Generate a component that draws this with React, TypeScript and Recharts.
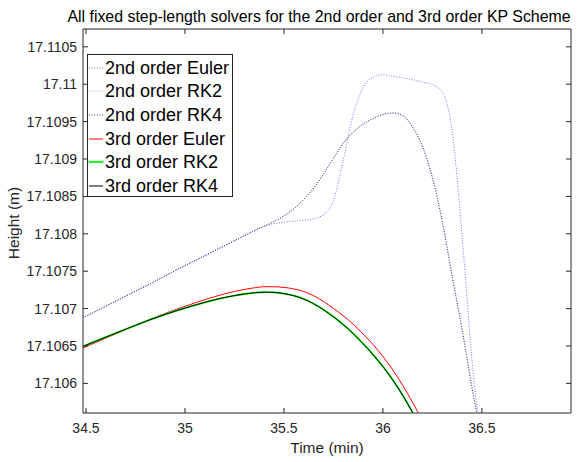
import React from 'react';
import { LineChart, Line, XAxis, YAxis, Legend, ReferenceArea } from 'recharts';

// time in minutes, one sample every 0.05 min
const TIME = [
  34.45, 34.5, 34.55, 34.6, 34.65, 34.7, 34.75, 34.8, 34.85, 34.9, 34.95,
  35.0, 35.05, 35.1, 35.15, 35.2, 35.25, 35.3, 35.35, 35.4, 35.45,
  35.5, 35.55, 35.6, 35.65, 35.7, 35.75, 35.8, 35.85, 35.9, 35.95,
  36.0, 36.05, 36.1, 36.15, 36.2, 36.25, 36.3, 36.35, 36.4, 36.45,
  36.5, 36.55,
];

const EULER_2ND = [
  17.106825, 17.106898, 17.106965, 17.107032, 17.107099, 17.107166, 17.107233, 17.107299, 17.107366, 17.107436, 17.107507,
  17.107574, 17.10764, 17.107707, 17.107774, 17.107841, 17.107908, 17.107975, 17.10804, 17.1081, 17.108135,
  17.108155, 17.108168, 17.108182, 17.108202, 17.108255, 17.108443, 17.108991, 17.109592, 17.109953, 17.110091,
  17.110127, 17.110107, 17.110087, 17.11006, 17.110028, 17.109993, 17.1099, 17.109365, 17.107975, 17.106303,
  17.105127, 17.10391,
];

const RK2_2ND = [
  17.106825, 17.106898, 17.106965, 17.107032, 17.107099, 17.107166, 17.107233, 17.107299, 17.107366, 17.107436, 17.107507,
  17.107574, 17.10764, 17.107707, 17.107774, 17.107841, 17.107908, 17.107975, 17.10804, 17.1081, 17.108165,
  17.10824, 17.108335, 17.10846, 17.10861, 17.1088, 17.10901, 17.10921, 17.10936, 17.109465, 17.10954,
  17.109595, 17.109615, 17.10958, 17.109425, 17.109164, 17.10875, 17.108162, 17.107427, 17.106718, 17.105943,
  17.105247, 17.104579,
];

const RK4_2ND = [
  17.106825, 17.106898, 17.106965, 17.107032, 17.107099, 17.107166, 17.107233, 17.107299, 17.107366, 17.107436, 17.107507,
  17.107574, 17.10764, 17.107707, 17.107774, 17.107841, 17.107908, 17.107975, 17.10804, 17.1081, 17.108165,
  17.10824, 17.108335, 17.10846, 17.10861, 17.1088, 17.10901, 17.10921, 17.10936, 17.109465, 17.10954,
  17.109595, 17.109615, 17.10958, 17.109425, 17.109164, 17.10875, 17.108162, 17.107427, 17.106718, 17.105943,
  17.105247, 17.104579,
];

const EULER_3RD = [
  17.10643, 17.106491, 17.106548, 17.106605, 17.106662, 17.106719, 17.106776, 17.106831, 17.106884, 17.106935, 17.106984,
  17.10703, 17.107075, 17.107119, 17.107159, 17.107196, 17.107229, 17.107256, 17.107278, 17.107292, 17.107292,
  17.107283, 17.107263, 17.107228, 17.107172, 17.107095, 17.107002, 17.106903, 17.106789, 17.106661, 17.106519,
  17.106359, 17.106179, 17.105974, 17.105744, 17.105494, 17.105224, null, null, null, null,
  null, null,
];

const RK2_3RD = [
  17.106457, 17.106511, 17.106564, 17.106618, 17.106671, 17.106724, 17.106776, 17.106827, 17.106876, 17.106922, 17.106965,
  17.107006, 17.107046, 17.107084, 17.107118, 17.107148, 17.107174, 17.107195, 17.107211, 17.10722, 17.107216,
  17.1072, 17.107172, 17.107128, 17.107065, 17.106985, 17.10689, 17.106785, 17.106665, 17.10653, 17.106385,
  17.106225, 17.106045, 17.10584, 17.10561, 17.10536, 17.10509, null, null, null, null,
  null, null,
];

const RK4_3RD = [
  17.106457, 17.106511, 17.106564, 17.106618, 17.106671, 17.106724, 17.106776, 17.106827, 17.106876, 17.106922, 17.106965,
  17.107006, 17.107046, 17.107084, 17.107118, 17.107148, 17.107174, 17.107195, 17.107211, 17.10722, 17.107216,
  17.1072, 17.107172, 17.107128, 17.107065, 17.106985, 17.10689, 17.106785, 17.106665, 17.10653, 17.106385,
  17.106225, 17.106045, 17.10584, 17.10561, 17.10536, 17.10509, null, null, null, null,
  null, null,
];

const X_TICKS = [34.5, 35, 35.5, 36, 36.5];
const Y_TICKS = [17.106, 17.1065, 17.107, 17.1075, 17.108, 17.1085, 17.109, 17.1095, 17.11, 17.1105];
const X_DOMAIN = [34.485, 36.95];
const Y_DOMAIN = [17.105604, 17.110738];

const SERIES = [
  { key: 'euler2', name: '2nd order Euler', values: EULER_2ND, color: '#7474ff', dash: '1 1.6', width: 1 },
  { key: 'rk2_2', name: '2nd order RK2', values: RK2_2ND, color: '#a6a6ff', dash: '1 1.6', width: 1 },
  { key: 'rk4_2', name: '2nd order RK4', values: RK4_2ND, color: '#3a3a5a', dash: '1 1.6', width: 1 },
  { key: 'euler3', name: '3rd order Euler', values: EULER_3RD, color: '#ff0000', dash: undefined, width: 1 },
  { key: 'rk2_3', name: '3rd order RK2', values: RK2_3RD, color: '#00ff00', dash: undefined, width: 1.8 },
  { key: 'rk4_3', name: '3rd order RK4', values: RK4_3RD, color: '#000000', dash: undefined, width: 1 },
];

const data = TIME.map((t, i) => {
  const row: Record<string, number | null> = { t };
  SERIES.forEach((s) => { row[s.key] = s.values[i]; });
  return row;
});

const FONT = '"Liberation Sans", Arial, Helvetica, sans-serif';
const AXIS = '#262626';
const W = 581;
const H = 462;
const PLOT_TOP = 29;
const PLOT_BOTTOM = 413;
const PLOT_LEFT = 83;
const PLOT_RIGHT = 571;

const XTick = (props: any) => {
  const { x, payload } = props;
  return (
    <g>
      <line x1={x} x2={x} y1={PLOT_BOTTOM} y2={PLOT_BOTTOM - 5} stroke={AXIS} />
      <line x1={x} x2={x} y1={PLOT_TOP} y2={PLOT_TOP + 5} stroke={AXIS} />
      <text x={x} y={PLOT_BOTTOM + 15} textAnchor="middle" dominantBaseline="central"
        fontSize={14} fontFamily={FONT} fill={AXIS}>{String(payload.value)}</text>
    </g>
  );
};

const YTick = (props: any) => {
  const { y, payload } = props;
  return (
    <g>
      <line x1={PLOT_LEFT} x2={PLOT_LEFT + 5} y1={y} y2={y} stroke={AXIS} />
      <line x1={PLOT_RIGHT} x2={PLOT_RIGHT - 5} y1={y} y2={y} stroke={AXIS} />
      <text x={PLOT_LEFT - 6} y={y} textAnchor="end" dominantBaseline="central"
        fontSize={14} fontFamily={FONT} fill={AXIS}>{String(payload.value)}</text>
    </g>
  );
};

const renderLegend = (props: any) => {
  const payload = props.payload || [];
  return (
    <div style={{
      width: 146, height: 143, boxSizing: 'border-box', border: `1px solid ${AXIS}`,
      background: '#fff', paddingTop: 1, fontFamily: FONT,
    }}>
      {payload.map((entry: any) => {
        const s = SERIES.find((x) => x.key === entry.dataKey) || SERIES[0];
        return (
          <div key={s.key} style={{ display: 'flex', alignItems: 'center', height: 23.66 }}>
            <svg width={16} height={10} style={{ flexShrink: 0 }}>
              <line x1={1} x2={15} y1={5} y2={5} stroke={s.color}
                strokeDasharray={s.dash} strokeWidth={s.width} />
            </svg>
            <span style={{ fontSize: 18, color: '#000', marginLeft: 1, whiteSpace: 'nowrap', lineHeight: '20px' }}>
              {s.name}
            </span>
          </div>
        );
      })}
    </div>
  );
};

export default function App() {
  return (
    <div style={{ position: 'absolute', left: 0, top: 0, width: W, height: H, background: '#fff', fontFamily: FONT }}>
      <div style={{
        position: 'absolute', left: 40, top: 8, width: 558, textAlign: 'center',
        fontSize: 15.9, lineHeight: '18px', color: '#000', whiteSpace: 'nowrap',
      }}>
        All fixed step-length solvers for the 2nd order and 3rd order KP Scheme
      </div>
      <LineChart width={W} height={H} data={data}
        margin={{ top: PLOT_TOP, right: W - PLOT_RIGHT, bottom: H - PLOT_BOTTOM - 30, left: 0 }}>
        <XAxis dataKey="t" type="number" domain={X_DOMAIN} ticks={X_TICKS} allowDataOverflow
          axisLine={false} tickLine={false} tick={<XTick />} height={30} interval={0}
          label={{ content: () => (
            <text x={(PLOT_LEFT + PLOT_RIGHT) / 2} y={447} textAnchor="middle" dominantBaseline="central"
              fontSize={15.5} fontFamily={FONT} fill={AXIS}>Time (min)</text>
          ) }} />
        <YAxis type="number" domain={Y_DOMAIN} ticks={Y_TICKS} allowDataOverflow width={PLOT_LEFT}
          axisLine={false} tickLine={false} tick={<YTick />} interval={0}
          label={{ content: () => (
            <text x={13} y={223} transform="rotate(-90 13 223)" textAnchor="middle" dominantBaseline="central"
              fontSize={15.5} fontFamily={FONT} fill={AXIS}>Height (m)</text>
          ) }} />
        <ReferenceArea x1={X_DOMAIN[0]} x2={X_DOMAIN[1]} y1={Y_DOMAIN[0]} y2={Y_DOMAIN[1]}
          fill="none" fillOpacity={0} stroke={AXIS} strokeWidth={1} ifOverflow="visible" />
        {SERIES.map((s) => (
          <Line key={s.key} dataKey={s.key} name={s.name} type="monotone" stroke={s.color}
            strokeWidth={s.width} strokeDasharray={s.dash} dot={false} activeDot={false}
            isAnimationActive={false} connectNulls={false} />
        ))}
        <Legend layout="vertical" align="center" verticalAlign="middle" content={renderLegend}
          wrapperStyle={{ left: 87, top: 54, width: 146, height: 143 }} />
      </LineChart>
    </div>
  );
}
